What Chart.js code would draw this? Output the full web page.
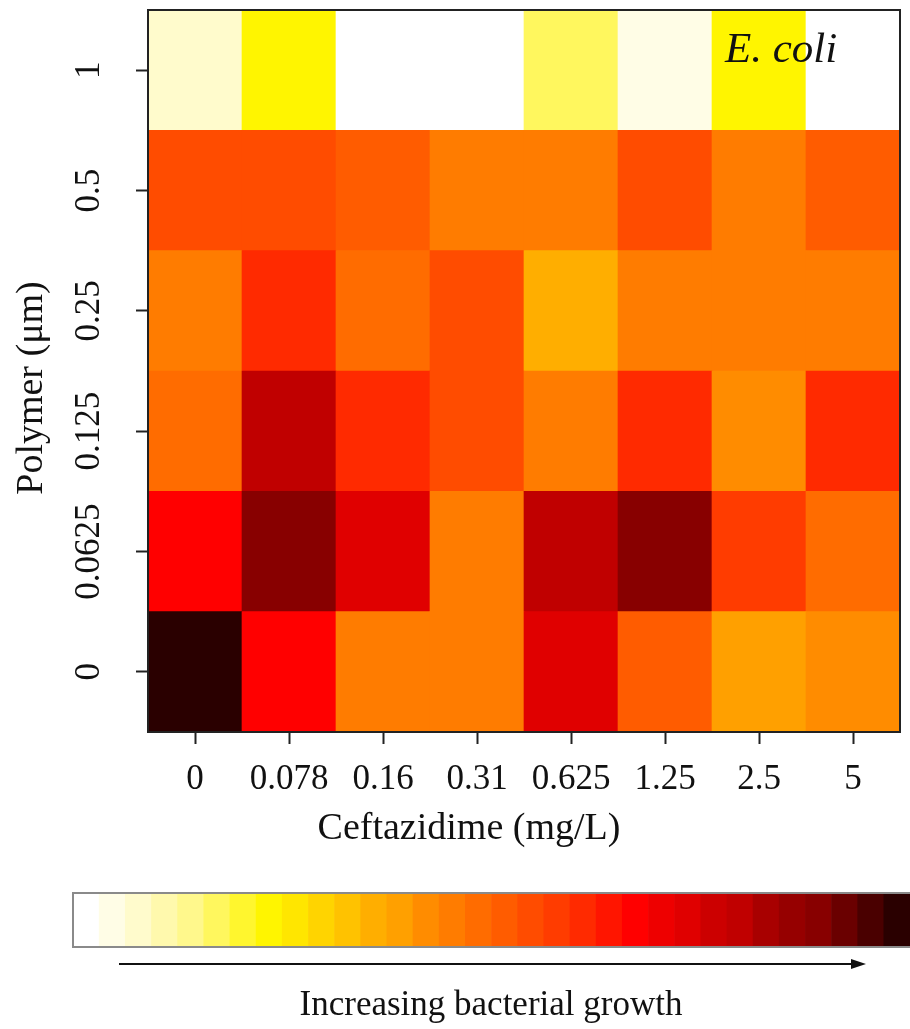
<!DOCTYPE html>
<html>
<head>
<meta charset="utf-8">
<script src="https://cdn.jsdelivr.net/npm/chart.js@4.4.1/dist/chart.umd.min.js"></script>
<style>
  body { margin: 0; background: #fff; }
  #wrap { position: relative; width: 910px; height: 1029px; }
  #heat { position: absolute; left: 0; top: 0; }
  #bar { position: absolute; left: 0; top: 880px; }
</style>
</head>
<body>
<div id="wrap">
  <canvas id="heat" width="910" height="1029"></canvas>
  <canvas id="bar" width="910" height="149"></canvas>
</div>
<script>
// x categories (mg/L) and y categories (um, bottom to top)
const ceftazidime = ["0", "0.078", "0.16", "0.31", "0.625", "1.25", "2.5", "5"];
const polymer = ["0", "0.0625", "0.125", "0.25", "0.5", "1"];

// growth level per cell, 0 = none .. 31 = most
const growthP0 = [31, 21, 14, 14, 23, 16, 12, 13];
const growthP00625 = [21, 28, 23, 14, 25, 28, 18, 15];
const growthP0125 = [15, 25, 19, 17, 14, 19, 13, 19];
const growthP025 = [14, 19, 15, 17, 11, 14, 14, 14];
const growthP05 = [17, 17, 16, 14, 14, 17, 14, 16];
const growthP1 = [2, 7, 0, 0, 5, 1, 7, 0];
const growthRows = [growthP0, growthP00625, growthP0125, growthP025, growthP05, growthP1];

// colour key steps
const keySteps = [0, 1, 2, 3, 4, 5, 6, 7, 8, 9, 10, 11, 12, 13, 14, 15,
  16, 17, 18, 19, 20, 21, 22, 23, 24, 25, 26, 27, 28, 29, 30, 31];

// white -> yellow -> orange -> red -> black
const palette = [
  "#ffffff", "#fffde6", "#fffbcc", "#fff9ad", "#fff88c", "#fff75e", "#fff62e", "#fff500",
  "#ffe600", "#ffd400", "#ffc200", "#ffae00", "#ffa000", "#ff8c00", "#ff7c00", "#ff6c00",
  "#ff5c00", "#ff4c00", "#ff3c00", "#ff2a00", "#ff1500", "#ff0000", "#ee0000", "#e00000",
  "#cc0000", "#c00000", "#a80000", "#960000", "#880000", "#6a0000", "#4a0000", "#2a0000"
];

const serif = '"Liberation Serif", "Times New Roman", serif';
const ink = "#111";

const heatDatasets = growthRows.map((vals, r) => ({
  label: polymer[r],
  data: vals.map(() => [r, r + 1]),
  backgroundColor: vals.map(v => palette[v]),
  borderWidth: 0,
  grouped: false,
  barPercentage: 1,
  categoryPercentage: 1
}));

// no extra room for label overhang, the plot box is placed by layout padding
function noOverhang(s) {
  s.paddingTop = 0;
  s.paddingBottom = 0;
  s.paddingLeft = 0;
  s.paddingRight = 0;
}

// box, axis titles and the species label
const frame = {
  id: "frame",
  afterDraw(chart) {
    const { ctx, chartArea: a } = chart;
    ctx.save();
    ctx.strokeStyle = "#222";
    ctx.lineWidth = 2;
    ctx.strokeRect(a.left, a.top, a.right - a.left, a.bottom - a.top);

    ctx.fillStyle = ink;
    ctx.font = "italic 43px " + serif;
    ctx.textAlign = "left";
    ctx.textBaseline = "alphabetic";
    ctx.fillText("E. coli", 725, 62);

    ctx.font = "38px " + serif;
    ctx.textAlign = "center";
    ctx.textBaseline = "middle";
    ctx.fillText("Ceftazidime (mg/L)", 469, 829);

    ctx.translate(32, 388);
    ctx.rotate(-Math.PI / 2);
    ctx.fillText("Polymer (\u03bcm)", 0, 0);
    ctx.restore();
  }
};

new Chart(document.getElementById("heat"), {
  type: "bar",
  data: { labels: ceftazidime, datasets: heatDatasets },
  options: {
    responsive: false,
    animation: false,
    layout: { padding: { top: 10, right: 10, bottom: 237, left: 0 } },
    plugins: { legend: { display: false }, tooltip: { enabled: false } },
    scales: {
      x: {
        type: "category",
        offset: true,
        grid: { offset: false, drawOnChartArea: false, tickLength: 12, tickColor: "#222", tickWidth: 2 },
        border: { display: false },
        ticks: { autoSkip: false, maxRotation: 0, padding: 15, color: ink, font: { family: serif, size: 35 } },
        afterFit: s => { s.height = 60; noOverhang(s); }
      },
      y: {
        type: "linear",
        min: 0,
        max: polymer.length,
        grid: { drawOnChartArea: false, tickLength: 12, tickColor: "#222", tickWidth: 2 },
        border: { display: false },
        afterBuildTicks: s => { s.ticks = polymer.map((p, i) => ({ value: i + 0.5 })); },
        ticks: {
          minRotation: 90,
          maxRotation: 90,
          crossAlign: "center",
          padding: -2,
          color: ink,
          font: { family: serif, size: 35 },
          callback: (v, i) => polymer[i]
        },
        afterFit: s => { s.width = 148; noOverhang(s); }
      }
    }
  },
  plugins: [frame]
});

// colour key: border, arrow and caption
const keyDecor = {
  id: "keyDecor",
  afterDraw(chart) {
    const { ctx, chartArea: a } = chart;
    ctx.save();
    ctx.strokeStyle = "#8a8a8a";
    ctx.lineWidth = 2;
    ctx.beginPath();
    ctx.moveTo(a.right + 2, a.top);
    ctx.lineTo(a.left, a.top);
    ctx.lineTo(a.left, a.bottom);
    ctx.lineTo(a.right + 2, a.bottom);
    ctx.stroke();

    ctx.strokeStyle = "#111";
    ctx.fillStyle = "#111";
    ctx.lineWidth = 2;
    ctx.beginPath();
    ctx.moveTo(119, 84);
    ctx.lineTo(852, 84);
    ctx.stroke();
    ctx.beginPath();
    ctx.moveTo(866, 84);
    ctx.lineTo(851, 79);
    ctx.lineTo(851, 89);
    ctx.closePath();
    ctx.fill();

    ctx.font = "35px " + serif;
    ctx.textAlign = "center";
    ctx.textBaseline = "middle";
    ctx.fillText("Increasing bacterial growth", 491, 126);
    ctx.restore();
  }
};

new Chart(document.getElementById("bar"), {
  type: "bar",
  data: {
    labels: keySteps,
    datasets: [{
      data: keySteps.map(() => 1),
      backgroundColor: keySteps.map(s => palette[s]),
      borderWidth: 0,
      barPercentage: 1,
      categoryPercentage: 1
    }]
  },
  options: {
    responsive: false,
    animation: false,
    layout: { padding: { top: 13, right: 0, bottom: 82, left: 73 } },
    plugins: { legend: { display: false }, tooltip: { enabled: false } },
    scales: {
      x: { display: false },
      y: { display: false, min: 0, max: 1 }
    }
  },
  plugins: [keyDecor]
});
</script>
</body>
</html>
